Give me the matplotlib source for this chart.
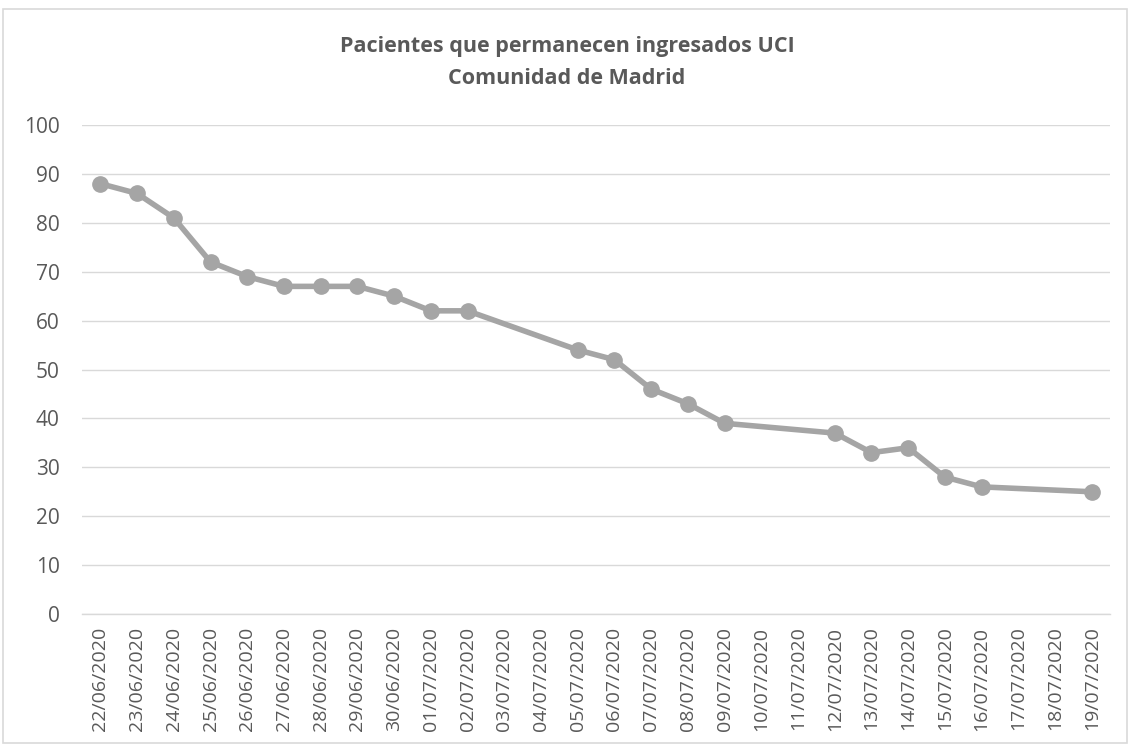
# Pacientes UCI - Comunidad de Madrid
import matplotlib
matplotlib.use("Agg")
import matplotlib.pyplot as plt
import pandas as pd

# Datos (días con dato publicado)
fechas = ["22/06/2020", "23/06/2020", "24/06/2020", "25/06/2020", "26/06/2020",
          "27/06/2020", "28/06/2020", "29/06/2020", "30/06/2020", "01/07/2020",
          "02/07/2020", "05/07/2020", "06/07/2020", "07/07/2020", "08/07/2020",
          "09/07/2020", "12/07/2020", "13/07/2020", "14/07/2020", "15/07/2020",
          "16/07/2020", "19/07/2020"]
pacientes = [88, 86, 81, 72, 69, 67, 67, 67, 65, 62, 62, 54, 52, 46, 43, 39,
             37, 33, 34, 28, 26, 25]

# Etiquetas del eje (todos los días)
etiquetas = ["22/06/2020", "23/06/2020", "24/06/2020", "25/06/2020", "26/06/2020",
             "27/06/2020", "28/06/2020", "29/06/2020", "30/06/2020", "01/07/2020",
             "02/07/2020", "03/07/2020", "04/07/2020", "05/07/2020", "06/07/2020",
             "07/07/2020", "08/07/2020", "09/07/2020", "10/07/2020", "11/07/2020",
             "12/07/2020", "13/07/2020", "14/07/2020", "15/07/2020", "16/07/2020",
             "17/07/2020", "18/07/2020", "19/07/2020"]
yticks = [0, 10, 20, 30, 40, 50, 60, 70, 80, 90, 100]

x = pd.to_datetime(fechas, format="%d/%m/%Y")
xt = pd.to_datetime(etiquetas, format="%d/%m/%Y")

plt.rcParams["font.family"] = ["Open Sans", "DejaVu Sans"]
texto = "#595959"
gris = "#A5A5A5"

fig = plt.figure(figsize=(11.34, 7.44), dpi=100)
ax = fig.add_axes([0.0723, 0.1747, 0.9067, 0.6573])

ax.plot(x, pacientes, color=gris, linewidth=4, marker="o", markersize=11,
        solid_joinstyle="round", zorder=3)

ax.set_ylim(0, 100)
ax.set_yticks(yticks)
ax.set_xticks(xt)
ax.set_xticklabels(etiquetas, rotation=90)
ax.set_xlim(xt[0] - pd.Timedelta(hours=12), xt[-1] + pd.Timedelta(hours=12))

ax.grid(axis="y", color="#D9D9D9", linewidth=1.0)
ax.set_axisbelow(True)
for s in ["top", "right", "left"]:
    ax.spines[s].set_visible(False)
ax.spines["bottom"].set_color("#D9D9D9")
ax.spines["bottom"].set_linewidth(1.0)
ax.tick_params(axis="both", length=0, colors=texto)
ax.tick_params(axis="y", pad=16, labelsize=15)
ax.tick_params(axis="x", pad=9, labelsize=14)

fig.text(0.5, 0.937, "Pacientes que permanecen ingresados UCI", ha="center",
         va="center", fontsize=15.5, fontweight="bold", color=texto)
fig.text(0.5, 0.895, "Comunidad de Madrid", ha="center", va="center",
         fontsize=15.5, fontweight="bold", color=texto)

# marco exterior
fig.patches.append(plt.Rectangle((0.003, 0.002), 0.991, 0.986, transform=fig.transFigure,
                                 fill=False, edgecolor="#D9D9D9", linewidth=1.2))

fig.savefig("out.png", dpi=100)
